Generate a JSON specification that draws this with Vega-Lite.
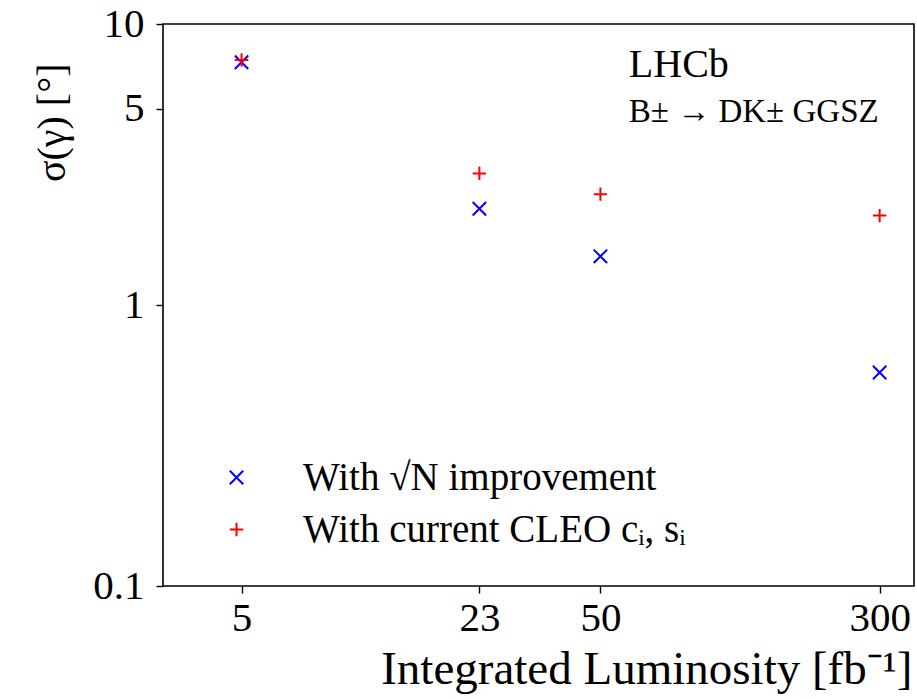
{
  "$schema": "https://vega.github.io/schema/vega-lite/v6.json",
  "width": 751,
  "height": 562,
  "autosize": {"type": "none"},
  "padding": {"left": 163, "top": 24, "right": 3, "bottom": 113},
  "background": "white",
  "config": {
    "font": "Liberation Serif",
    "view": {"stroke": "black", "strokeWidth": 1.6},
    "axis": {"grid": false, "domain": false, "tickColor": "black", "tickWidth": 1.4, "tickSize": 7, "labelColor": "black", "titleColor": "black", "labelFont": "Liberation Serif", "titleFont": "Liberation Serif", "titleFontWeight": "normal", "labelFlush": false, "labelOverlap": false}
  },
  "datasets": {
    "points": [
      {"lumi": 5, "sigma": 7.31, "method": "With √N improvement"},
      {"lumi": 23, "sigma": 2.20, "method": "With √N improvement"},
      {"lumi": 50, "sigma": 1.49, "method": "With √N improvement"},
      {"lumi": 300, "sigma": 0.575, "method": "With √N improvement"},
      {"lumi": 5, "sigma": 7.45, "method": "With current CLEO cᵢ, sᵢ"},
      {"lumi": 23, "sigma": 2.94, "method": "With current CLEO cᵢ, sᵢ"},
      {"lumi": 50, "sigma": 2.48, "method": "With current CLEO cᵢ, sᵢ"},
      {"lumi": 300, "sigma": 2.08, "method": "With current CLEO cᵢ, sᵢ"}
    ],
    "labels": [
      {"lumi": 60, "sigma": 6.49, "label": "LHCb"},
      {"lumi": 60, "sigma": 4.49, "label": "B± → DK± GGSZ"}
    ]
  },
  "layer": [
    {
      "data": {"name": "points"},
      "mark": {"type": "point", "filled": false, "strokeWidth": 2, "size": 180, "opacity": 1},
      "encoding": {
        "x": {
          "field": "lumi", "type": "quantitative",
          "scale": {"type": "log", "domain": [3.02, 374], "nice": false},
          "axis": {"values": [5, 23, 50, 300], "format": "~g", "labelFontSize": 41, "labelPadding": 5,
                   "title": "Integrated Luminosity [fb⁻¹]", "titleFontSize": 47, "titleAnchor": "end", "titleAlign": "right", "titleBaseline": "alphabetic", "titleX": 749, "titleY": 97}
        },
        "y": {
          "field": "sigma", "type": "quantitative",
          "scale": {"type": "log", "domain": [0.1, 10], "nice": false},
          "axis": {"values": [0.1, 1, 5, 10], "format": "~g", "labelFontSize": 41, "labelPadding": 12,
                   "title": "σ(γ) [°]", "titleFontSize": 40, "titleAngle": 270, "titleAlign": "right", "titleBaseline": "middle", "titleX": -111, "titleY": 39}
        },
        "color": {
          "field": "method", "type": "nominal",
          "scale": {"domain": ["With √N improvement", "With current CLEO cᵢ, sᵢ"], "range": ["#0000ff", "#ff0000"]},
          "legend": {"title": null, "orient": "none", "legendX": 54, "legendY": 434, "padding": 0, "labelFontSize": 39, "labelFont": "Liberation Serif", "labelColor": "black", "labelOffset": 47, "symbolSize": 180, "symbolStrokeWidth": 2, "rowPadding": 12, "labelLimit": 600}
        },
        "shape": {
          "field": "method", "type": "nominal",
          "scale": {"domain": ["With √N improvement", "With current CLEO cᵢ, sᵢ"], "range": ["M-1,-1L1,1M-1,1L1,-1", "M-1,0L1,0M0,-1L0,1"]},
          "legend": null
        }
      }
    },
    {
      "data": {"name": "labels"},
      "mark": {"type": "text", "align": "left", "baseline": "alphabetic", "font": "Liberation Serif", "color": "black"},
      "encoding": {
        "x": {"field": "lumi", "type": "quantitative"},
        "y": {"field": "sigma", "type": "quantitative"},
        "text": {"field": "label"},
        "size": {"field": "label", "type": "nominal", "scale": {"domain": ["LHCb", "B± → DK± GGSZ"], "range": [40, 33]}, "legend": null}
      }
    }
  ]
}
